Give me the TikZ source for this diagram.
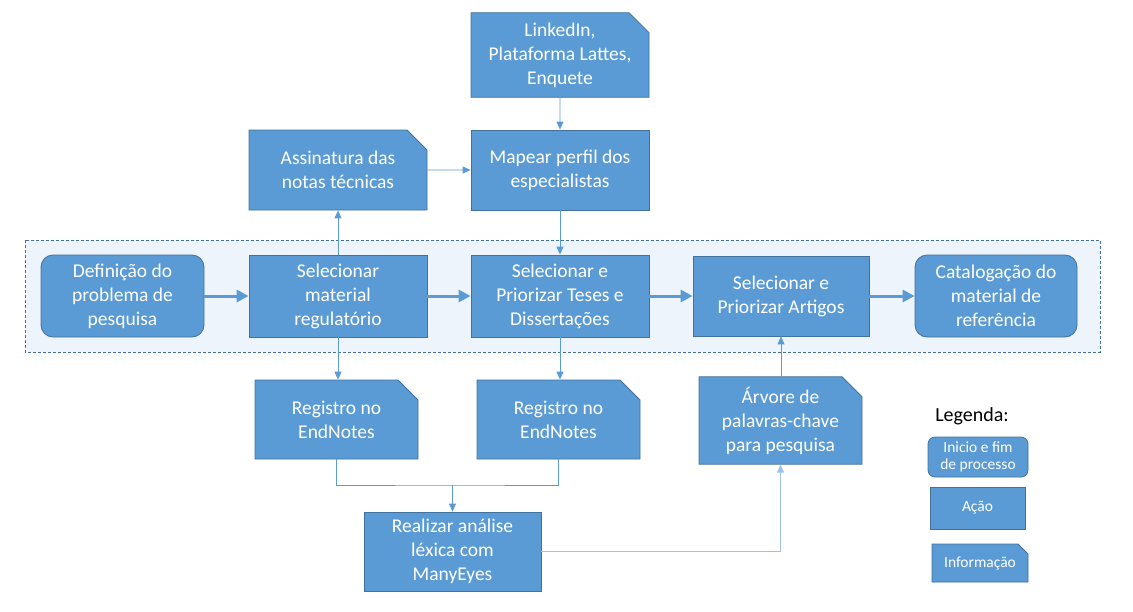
\documentclass[tikz,border=0pt]{standalone}
\usepackage{fontspec}
\setmainfont{Carlito}
\usetikzlibrary{arrows.meta,shapes.misc}
\definecolor{boxblue}{HTML}{5B9BD5}
\definecolor{boxedge}{HTML}{41719C}
\definecolor{bandfill}{HTML}{EEF4FB}
\definecolor{lightline}{HTML}{9DC3E6}
\tikzset{
  acao/.style={rectangle,fill=boxblue,draw=boxedge,line width=0.8pt,text=white,
    align=center,inner sep=0pt,font=\fontsize{19.5}{24}\selectfont},
  inicio/.style={acao,rounded corners=12pt},
  info/.style={acao,chamfered rectangle,chamfered rectangle corners=north east,
    chamfered rectangle sep=10pt},
  legfont/.style={font=\fontsize{15.5}{16.5}\selectfont},
  fino/.style={draw=boxblue,line width=0.9pt,-{Triangle[length=8pt,width=7pt]}},
  grosso/.style={draw=boxblue,line width=3pt,-{Triangle[length=12pt,width=12pt]}},
}
\begin{document}
\begin{tikzpicture}[x=1pt,y=-1pt]
	\useasboundingbox (0,0) rectangle (1133,611);
	% faixa tracejada
	\fill[bandfill] (25,240) rectangle (1100,352);
	\draw[boxedge,line width=0.8pt,dash pattern=on 3pt off 2pt] (25,240) rectangle (1100,352);

	\node[info,minimum width=178pt,minimum height=80pt] (fontes) at (560,55) {LinkedIn,\\Plataforma Lattes,\\Enquete};
	\node[acao,minimum width=178pt,minimum height=80pt] (mapear) at (560,170) {Mapear perfil dos\\especialistas};
	\node[info,minimum width=178pt,minimum height=80pt] (assin) at (338,170) {Assinatura das\\notas técnicas};

	\node[inicio,minimum width=163pt,minimum height=82pt] (defin) at (122.5,296) {Definição do\\problema de\\pesquisa};
	\node[acao,minimum width=178pt,minimum height=82pt] (regul) at (338,296) {Selecionar\\material\\regulatório};
	\node[acao,minimum width=178pt,minimum height=82pt] (teses) at (560,296) {Selecionar e\\Priorizar Teses e\\Dissertações};
	\node[acao,minimum width=176pt,minimum height=80pt] (artig) at (781,296) {Selecionar e\\Priorizar Artigos};
	\node[inicio,minimum width=162pt,minimum height=82pt] (catal) at (996,296) {Catalogação do\\material de\\referência};

	\node[info,minimum width=163pt,minimum height=79pt] (regA) at (336.5,419.5) {Registro no\\EndNotes};
	\node[info,minimum width=163pt,minimum height=79pt] (regB) at (558.5,419.5) {Registro no\\EndNotes};
	\node[info,minimum width=163pt,minimum height=81pt] (arvore) at (780.5,420.5) {Árvore de\\palavras-chave\\para pesquisa};
	\node[acao,minimum width=177pt,minimum height=79pt] (lexica) at (452.5,551.5) {Realizar análise\\léxica com\\ManyEyes};

	% legenda
	\node[font=\fontsize{20}{22}\selectfont] (leg) at (972,416) {Legenda:};
	\node[inicio,legfont,rounded corners=7pt,minimum width=100pt,minimum height=40pt] (legA) at (978,457) {Inicio e fim\\de processo};
	\node[acao,legfont,minimum width=95pt,minimum height=42pt] (legB) at (977.5,508) {Ação};
	\node[info,legfont,chamfered rectangle sep=5pt,minimum width=96pt,minimum height=38pt] (legC) at (980,563) {Informação};

	% ligacoes
	\draw[grosso] (defin) -- (regul);
	\draw[grosso] (regul) -- (teses);
	\draw[grosso] (teses) -- (artig);
	\draw[grosso] (artig) -- (catal);

	\draw[fino] (fontes) -- (mapear);
	\draw[fino] (assin) -- (mapear);
	\draw[fino] (mapear) -- (teses);
	\draw[fino] (regul) -- (assin);
	\draw[fino] (regul.south) -- (regul.south |- regA.north);
	\draw[fino] (teses.south) -- (teses.south |- regB.north);
	\draw[fino] (arvore.north -| artig.south) -- (artig.south);

	\coordinate (junta) at (452.5,485);
	\draw[draw=boxblue,line width=0.9pt] (regA.south) |- (junta) -| (regB.south);
	\draw[fino] (junta) -- (lexica.north);
	\draw[fino,draw=lightline,line width=1.2pt] (lexica.east) -| (arvore.south);
\end{tikzpicture}
\end{document}
